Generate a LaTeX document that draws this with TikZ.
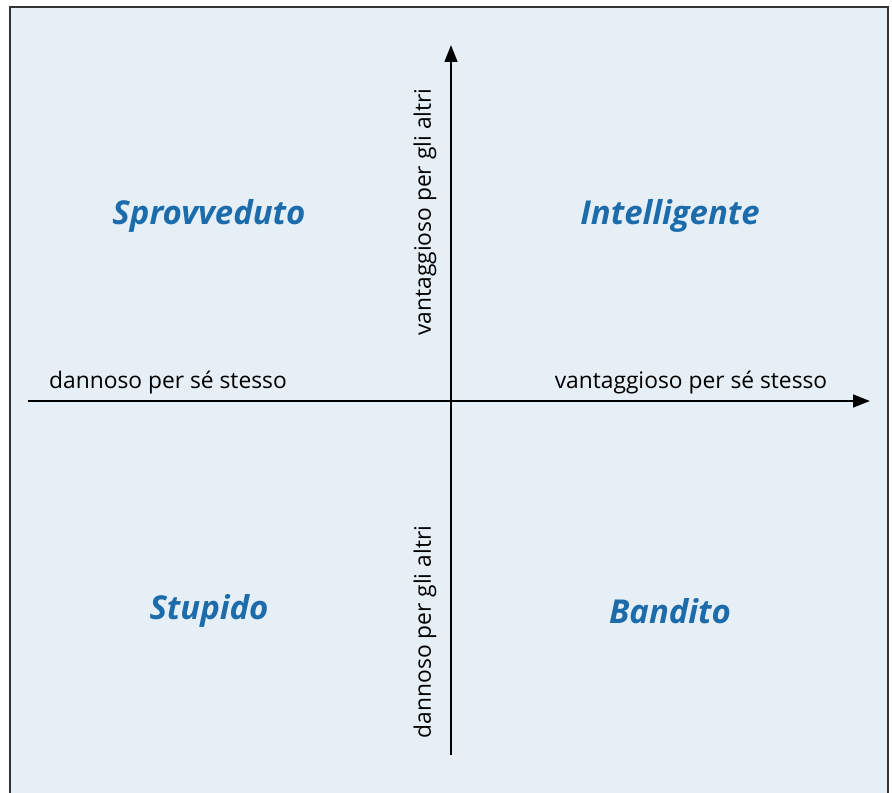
\documentclass[tikz,border=0pt]{standalone}
\usepackage{fontspec}
\setmainfont{Open Sans}
\usetikzlibrary{arrows.meta}
\definecolor{fondo}{HTML}{E6EEF6}
\definecolor{blu}{HTML}{1C6CAB}
\definecolor{bordo}{HTML}{333333}

\begin{document}
\begin{tikzpicture}[x=0.025cm,y=0.025cm,>={Triangle[length=12pt,width=9pt]}]
\tikzset{
tipo/.style={text=blu,font=\fontsize{23.4}{26}\selectfont\bfseries\itshape},
asse/.style={font=\fontsize{16.2}{18}\selectfont,inner sep=0pt}
}
\useasboundingbox (0,0) rectangle (892,792);

% Sfondo e cornice
\fill[fondo] (10,-5) rectangle (888,785);
\draw[bordo,line width=1pt] (10,-5) -- (10,785) -- (888,785) -- (888,-5);

% Assi
\coordinate (sx) at (28,391);
\coordinate (dx) at (870,391);
\coordinate (giu) at (451,37);
\coordinate (su) at (451,747);
\draw[->,line width=1.6pt] (sx) -- (dx);
\draw[->,line width=1.6pt] (giu) -- (su);

% Etichette degli assi
\node[asse] (dannosoSe) at (168,409) {dannoso per sé stesso};
\node[asse] (vantaggiosoSe) at (691,409) {vantaggioso per sé stesso};
\node[asse,rotate=90] (vantaggiosoAltri) at (425,580) {vantaggioso per gli altri};
\node[asse,rotate=90] (dannosoAltri) at (425,160) {dannoso per gli altri};

% Quadranti
\node[tipo] (sprovveduto) at (209,576) {Sprovveduto};
\node[tipo] (intelligente) at (670,576) {Intelligente};
\node[tipo] (stupido) at (209,181) {Stupido};
\node[tipo] (bandito) at (670,181) {Bandito};

\end{tikzpicture}
\end{document}
